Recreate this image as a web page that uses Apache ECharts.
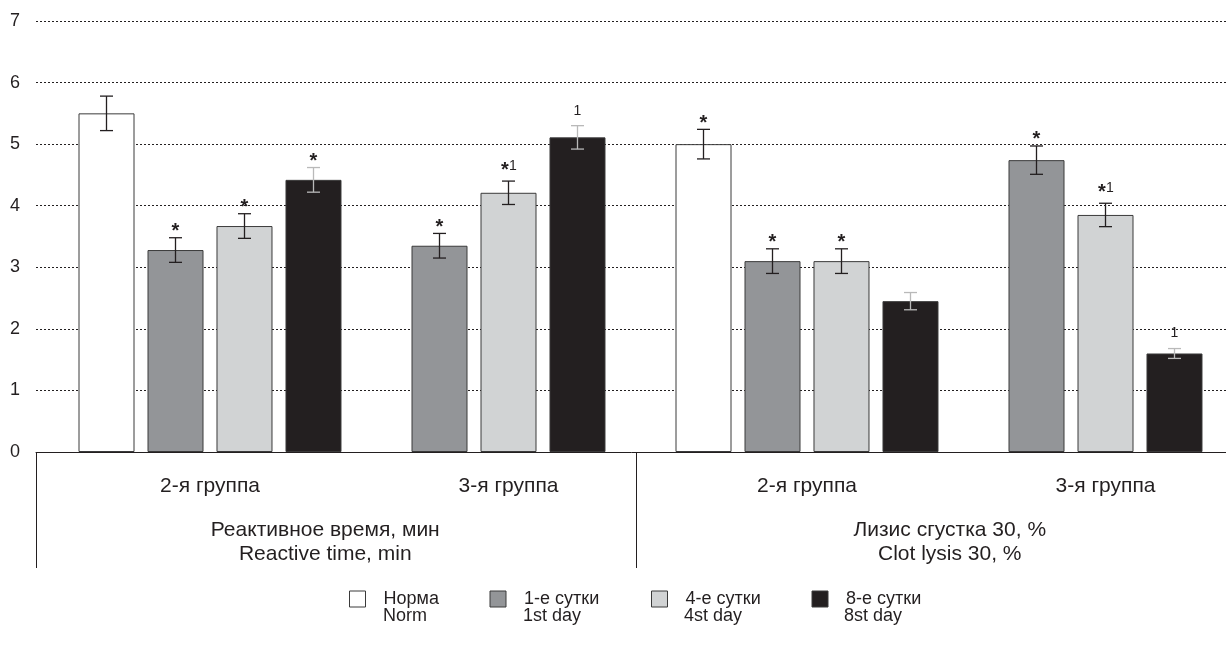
<!DOCTYPE html>
<html>
<head>
<meta charset="utf-8">
<script src="https://cdn.jsdelivr.net/npm/echarts@6/dist/echarts.min.js"></script>
<style>
  html, body { margin: 0; padding: 0; background: #ffffff; }
  #chart { width: 1226px; height: 648px; }
</style>
</head>
<body>
<div id="chart"></div>
<script>
// Category labels: study group under each cluster, parameter under each pair of clusters
const groupLabels = ['2-я группа', '3-я группа', '2-я группа', '3-я группа'];
const paramLabels = ['Реактивное время, мин\nReactive time, min', 'Лизис сгустка 30, %\nClot lysis 30, %'];

// Series names (legend), Russian and English lines
const seriesNamesRu = ['Норма', '1-е сутки', '4-е сутки', '8-е сутки'];
const seriesNamesEn = ['Norm', '1st day', '4st day', '8st day'];

// Mean values per cluster (null = not measured in that group)
const normValues = [5.50, null, 5.00, null];
const day1Values = [3.28, 3.35, 3.10, 4.74];
const day4Values = [3.67, 4.21, 3.10, 3.85];
const day8Values = [4.42, 5.11, 2.45, 1.60];

// Error half-widths
const normErr = [0.28, null, 0.24, null];
const day1Err = [0.20, 0.20, 0.20, 0.23];
const day4Err = [0.20, 0.19, 0.20, 0.19];
const day8Err = [0.20, 0.19, 0.14, 0.08];

// Significance marks above the whiskers
const normMarks = ['', '', '*', ''];
const day1Marks = ['*', '*', '*', '*'];
const day4Marks = ['*', '*1', '*', '*1'];
const day8Marks = ['*', '1', '', '1'];

// Value axis ticks
const yMin = 0, yMax = 7, yStep = 1;

const allValues = [normValues, day1Values, day4Values, day8Values];
const allErr = [normErr, day1Err, day4Err, day8Err];
const allMarks = [normMarks, day1Marks, day4Marks, day8Marks];

const FONT = '"Liberation Sans", Arial, sans-serif';
const INK = '#231f20';
const fills = ['#ffffff', '#939598', '#d1d3d4', '#231f20'];
const whiskerColors = [INK, INK, INK, '#b9b9b9'];
const BAR_W = 56;
const BAR_GAP = 13;

// clusters that include the norm bar go on axis 0, the others on axis 1
const withNorm = groupLabels.map((_, i) => normValues[i] != null);

const series = [];
[true, false].forEach((normAxis, axisIdx) => {
  const kinds = normAxis ? [0, 1, 2, 3] : [1, 2, 3];
  const n = kinds.length;
  kinds.forEach((k, slot) => {
    series.push({
      type: 'bar',
      name: seriesNamesRu[k],
      xAxisIndex: axisIdx,
      yAxisIndex: 0,
      barWidth: BAR_W,
      barGap: (BAR_GAP / BAR_W * 100).toFixed(2) + '%',
      itemStyle: { color: fills[k], borderColor: '#3a3a3a', borderWidth: 1 },
      data: allValues[k].map((v, i) => (withNorm[i] === normAxis && v != null) ? v : '-'),
      z: 2
    });
    const errData = [];
    allValues[k].forEach((v, i) => {
      if (withNorm[i] === normAxis && v != null) errData.push([i, v, allErr[k][i]]);
    });
    series.push({
      type: 'custom',
      xAxisIndex: axisIdx,
      yAxisIndex: 0,
      z: 4,
      data: errData,
      renderItem: (params, api) => {
        const cat = api.value(0), v = api.value(1), e = api.value(2);
        const c = api.coord([cat, v]);
        const x = c[0] + (slot - (n - 1) / 2) * (BAR_W + BAR_GAP);
        const yHi = api.coord([cat, v + e])[1];
        const yLo = api.coord([cat, v - e])[1];
        const stroke = whiskerColors[k];
        const lw = 1.3, cap = 6.5;
        const children = [
          { type: 'line', shape: { x1: x, y1: yHi, x2: x, y2: yLo }, style: { stroke, lineWidth: lw } },
          { type: 'line', shape: { x1: x - cap, y1: yHi, x2: x + cap, y2: yHi }, style: { stroke, lineWidth: lw } },
          { type: 'line', shape: { x1: x - cap, y1: yLo, x2: x + cap, y2: yLo }, style: { stroke, lineWidth: lw } }
        ];
        const m = allMarks[k][cat] || '';
        const hasStar = m.indexOf('*') >= 0;
        const hasDigit = m.indexOf('1') >= 0;
        const mid = yHi - (hasDigit ? 15 : 11);
        if (hasStar) {
          children.push({ type: 'text', style: {
            text: '*', x: x - (hasDigit ? 3.5 : 0), y: mid + 4.7,
            align: 'center', verticalAlign: 'middle',
            fontSize: 20, fontWeight: 'bold', fontFamily: FONT, fill: INK } });
        }
        if (hasDigit) {
          children.push({ type: 'text', style: {
            text: '1', x: x + (hasStar ? 4.5 : 0), y: mid,
            align: 'center', verticalAlign: 'middle',
            fontSize: 14, fontFamily: FONT, fill: INK } });
        }
        return { type: 'group', children };
      }
    });
  });
});

// legend: Russian line with swatches, English line underneath with hidden swatches
const legendWidths = [106, 127, 126, 126];
const richWidths = {};
legendWidths.forEach((w, k) => {
  richWidths['w' + k] = { width: w, fontSize: 18, lineHeight: 16, fontFamily: FONT, color: INK };
});
function legendDef(top, names, hidden) {
  return {
    left: 344, top: top,
    orient: 'horizontal',
    icon: 'rect',
    itemWidth: 16, itemHeight: 16, itemGap: 0,
    selectedMode: false,
    data: seriesNamesRu.map((name, k) => ({
      name: name,
      itemStyle: hidden
        ? { color: 'rgba(0,0,0,0)', borderColor: 'rgba(0,0,0,0)', borderWidth: 0 }
        : { color: fills[k], borderColor: '#3a3a3a', borderWidth: 1 }
    })),
    formatter: name => {
      const k = seriesNamesRu.indexOf(name);
      return '{w' + k + '|' + names[k] + '}';
    },
    textStyle: { fontSize: 18, fontFamily: FONT, color: INK, padding: [0, 0, 0, 13], rich: richWidths }
  };
}

const option = {
  animation: false,
  backgroundColor: '#ffffff',
  textStyle: { fontFamily: FONT, color: INK },
  grid: [
    { left: 60.75, width: 1194, top: 21, height: 431, outerBoundsMode: 'none', containLabel: false },
    { left: 36, width: 1201, top: 21, height: 431, outerBoundsMode: 'none', containLabel: false }
  ],
  legend: [
    legendDef(585, seriesNamesRu, false),
    legendDef(602, seriesNamesEn, true)
  ],
  xAxis: [
    {
      type: 'category', gridIndex: 0, data: groupLabels,
      axisLine: { show: false }, axisTick: { show: false }, splitLine: { show: false },
      axisLabel: { margin: 24, fontSize: 21, fontFamily: FONT, color: INK }
    },
    { type: 'category', gridIndex: 0, data: groupLabels, show: false },
    {
      type: 'category', gridIndex: 1,
      data: [
        { value: paramLabels[0], textStyle: { padding: [0, 22, 0, 0] } },
        { value: paramLabels[1], textStyle: { padding: [0, 0, 0, 26] } }
      ],
      axisLine: { show: true, lineStyle: { color: INK, width: 1 } },
      axisTick: { show: true, length: 116, lineStyle: { color: INK, width: 1 } },
      splitLine: { show: false },
      axisLabel: { margin: 66, fontSize: 21, lineHeight: 24, fontFamily: FONT, color: INK }
    }
  ],
  yAxis: [
    { type: 'value', gridIndex: 0, min: yMin, max: yMax, interval: yStep, show: false },
    {
      type: 'value', gridIndex: 1, min: yMin, max: yMax, interval: yStep,
      axisLine: { show: false }, axisTick: { show: false },
      axisLabel: { margin: 16, fontSize: 18, fontFamily: FONT, color: INK },
      splitLine: { show: true, lineStyle: { type: [2, 2], color: INK, width: 1 } }
    }
  ],
  series: series
};

const chart = echarts.init(document.getElementById('chart'), null, { renderer: 'canvas' });
chart.setOption(option);
</script>
</body>
</html>
